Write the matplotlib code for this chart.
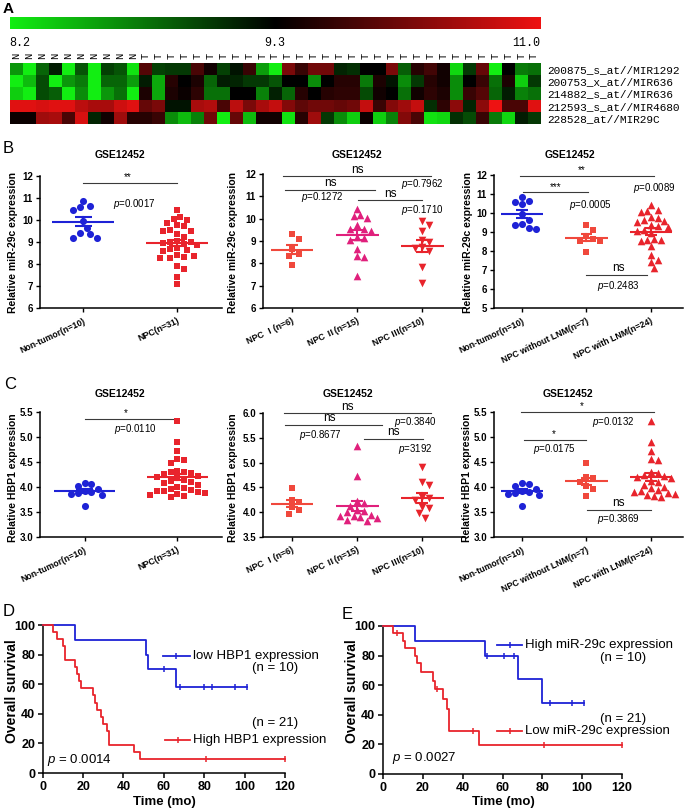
import numpy as np
import matplotlib
matplotlib.use('Agg')
import matplotlib.pyplot as plt
from matplotlib.colors import LinearSegmentedColormap, TwoSlopeNorm
from matplotlib.lines import Line2D

W, H = 685, 810
plt.rcParams['font.family'] = ['Liberation Sans', 'Noto Sans CJK SC', 'DejaVu Sans']
plt.rcParams['mathtext.fontset'] = 'custom'
plt.rcParams['mathtext.it'] = 'Liberation Sans:italic'
plt.rcParams['mathtext.rm'] = 'Liberation Sans'
plt.rcParams['axes.linewidth'] = 1.1

# ---------------- DATA ----------------
heat_rows = ['200875_s_at//MIR1292', '200753_x_at//MIR636', '214882_s_at//MIR636',
             '212593_s_at//MIR4680', '228528_at//MIR29C']
heat_cols = ['N'] * 10 + ['T'] * 31
heat_r1 = [8.61, 8.20, 8.83, 9.17, 8.20, 8.91, 8.20, 9.00, 8.91, 8.26, 9.90, 9.00, 9.04, 9.04, 9.83, 9.43,
           9.00, 9.21, 9.70, 8.57, 8.20, 10.17, 9.70, 10.10, 10.10, 9.13, 9.08, 9.30, 9.30, 10.17, 8.87,
           9.57, 9.77, 9.43, 8.31, 9.04, 10.03, 8.20, 9.30, 8.74, 8.78]
heat_r2 = [8.20, 8.44, 8.95, 8.20, 8.61, 8.74, 8.20, 8.83, 8.83, 8.57, 9.17, 8.52, 9.57, 9.30, 9.50, 8.83,
           9.17, 9.13, 9.04, 9.04, 8.91, 9.30, 9.30, 8.65, 9.30, 9.57, 9.57, 8.74, 9.50, 9.21, 8.65,
           9.04, 9.57, 9.43, 8.65, 9.30, 9.70, 8.78, 9.50, 8.35, 9.04]
heat_r3 = [8.35, 8.20, 8.95, 8.87, 8.20, 8.65, 8.20, 8.61, 8.78, 8.20, 9.50, 8.52, 9.50, 9.37, 9.63, 8.78,
           8.78, 9.30, 9.30, 8.70, 9.15, 8.83, 9.57, 9.30, 9.57, 9.63, 9.63, 8.95, 9.43, 9.30, 8.78,
           9.43, 9.63, 9.50, 8.65, 9.70, 9.90, 8.83, 9.17, 8.70, 8.78]
heat_r4 = [10.90, 10.90, 10.83, 10.90, 10.90, 10.63, 10.50, 10.50, 10.77, 10.90, 10.03, 10.17, 9.21, 9.21,
           10.50, 10.57, 9.83, 10.63, 10.17, 10.50, 10.70, 10.23, 9.97, 10.10, 10.10, 10.03, 10.10, 10.70,
           9.70, 10.23, 10.43, 10.70, 9.08, 9.63, 10.30, 9.13, 10.30, 11.00, 9.83, 9.83, 10.90]
heat_r5 = [9.37, 9.37, 10.43, 10.50, 9.83, 10.83, 9.13, 9.43, 10.43, 9.57, 9.57, 9.70, 8.65, 8.44, 8.70,
           10.10, 8.20, 10.03, 8.44, 9.43, 9.43, 8.26, 9.57, 10.43, 9.04, 8.65, 8.35, 9.37, 8.35, 8.70,
           10.23, 9.83, 8.26, 8.31, 9.08, 8.95, 9.70, 8.74, 8.31, 9.17, 9.04]
heat_min, heat_mid, heat_max = 8.2, 9.3, 11.0

# miR-29c expression (panel B)
mir_nontumor = [10.85, 10.65, 10.58, 10.45, 9.95, 9.65, 9.40, 9.38, 9.18, 9.20]
mir_npc = [10.45, 10.15, 10.05, 10.02, 9.88, 9.76, 9.74, 9.56, 9.52, 9.50, 9.38, 9.22, 9.05, 9.02, 8.98,
           8.95, 8.90, 8.88, 8.72, 8.68, 8.62, 8.58, 8.40, 8.38, 8.30, 8.28, 8.28, 7.92, 7.78, 7.42, 7.08]
mir_stage1 = [9.33, 9.08, 8.62, 8.40, 8.35, 7.93]
mir_stage2 = [10.43, 10.15, 10.10, 10.05, 9.72, 9.55, 9.52, 9.45, 9.20, 9.15, 9.05, 8.62, 8.32, 8.30, 7.42]
mir_stage3 = [9.88, 9.72, 9.45, 9.05, 8.95, 8.55, 8.72, 8.70, 7.82, 7.10]
mir_nolnm = [9.35, 9.12, 8.78, 8.65, 8.55, 8.52, 7.95]
mir_lnm = [10.42, 10.15, 10.10, 10.05, 9.78, 9.75, 9.62, 9.60, 9.55, 9.35, 9.30, 9.28, 9.10, 9.05, 8.95,
           8.62, 8.60, 8.58, 8.55, 8.28, 7.80, 7.55, 7.42, 7.08]

# HBP1 expression (panel C)
hbp_nontumor = [4.08, 4.06, 4.03, 3.97, 3.93, 3.90, 3.88, 3.86, 3.85, 3.63]
hbp_npc = [5.33, 4.90, 4.73, 4.57, 4.55, 4.48, 4.32, 4.30, 4.30, 4.28, 4.27, 4.22, 4.20, 4.18, 4.15, 4.12,
           4.10, 4.08, 4.05, 4.00, 3.98, 3.96, 3.95, 3.93, 3.92, 3.90, 3.88, 3.86, 3.85, 3.82, 3.80]
hbp_stage1 = [4.48, 4.25, 4.20, 4.10, 4.05, 3.97]
hbp_stage2 = [5.33, 4.72, 4.22, 4.18, 4.12, 4.05, 4.03, 4.00, 3.95, 3.93, 3.92, 3.90, 3.88, 3.85, 3.82]
hbp_stage3 = [4.92, 4.60, 4.55, 4.30, 4.28, 4.25, 4.10, 4.08, 3.98, 3.88]
hbp_nolnm = [4.48, 4.20, 4.18, 4.10, 4.02, 3.97, 3.83]
hbp_lnm = [5.33, 4.90, 4.73, 4.57, 4.55, 4.30, 4.28, 4.25, 4.22, 4.20, 4.18, 4.12, 4.10, 4.05, 4.00, 3.98,
           3.95, 3.92, 3.90, 3.88, 3.87, 3.85, 3.83, 3.80]

cats_tumor = ['Non-tumor(n=10)', 'NPC(n=31)']
cats_stage = ['NPC Ⅰ(n=6)', 'NPC Ⅱ(n=15)', 'NPC Ⅲ(n=10)']
cats_lnm = ['Non-tumor(n=10)', 'NPC without LNM(n=7)', 'NPC with LNM(n=24)']

# Survival (panels D, E): step times and survival levels (%), censor times
d_low_t = [0, 16, 51, 52, 66]
d_low_s = [100, 90, 80, 70, 58.3]
d_low_end = 101
d_low_cens = [60, 68, 80, 84, 95, 101]
d_high_t = [0, 5, 7, 10, 11, 16, 17, 18, 19, 25, 26, 27, 29, 30, 32, 33, 45, 48]
d_high_s = [100, 95.2, 90.5, 85.7, 76.2, 71.4, 66.7, 61.9, 57.1, 52.4, 47.6, 42.9, 38.1, 33.3, 28.6,
            19.0, 14.3, 9.5]
d_high_end = 120
d_high_cens = [81, 120]

e_high_t = [0, 16, 51, 68, 80]
e_high_s = [100, 90, 80, 64, 48]
e_high_end = 101
e_high_cens = [52, 61, 66, 84, 95, 101]
e_low_t = [0, 5, 10, 11, 16, 17, 19, 25, 26, 30, 32, 33, 48]
e_low_s = [100, 95, 90, 85, 80, 75, 69, 63, 57.5, 51, 44, 29, 19.5]
e_low_end = 120
e_low_cens = [7, 27, 45, 81, 120]

# ---------------- FIGURE ----------------
fig = plt.figure(figsize=(W / 100, H / 100), dpi=100)


def fx(px):
    return px / W


def fy(py):
    return 1 - py / H


def px_axes(x0, y0, x1, y1):
    return fig.add_axes([x0 / W, 1 - y1 / H, (x1 - x0) / W, (y1 - y0) / H])


BLUE = '#1e22d6'
RED = '#e8242c'
CORAL = '#f0483c'
MAGENTA = '#e0207c'

# ---- Panel A: heatmap ----
cmap = LinearSegmentedColormap.from_list('gkr', [(0, '#12ee12'), (0.5, '#000000'), (1, '#ee1212')])
hm = np.array([heat_r1, heat_r2, heat_r3, heat_r4, heat_r5])
axh = px_axes(9.6, 63, 540.6, 124)
axh.imshow(hm, cmap=cmap, norm=TwoSlopeNorm(vcenter=heat_mid, vmin=heat_min, vmax=heat_max),
           aspect='auto', interpolation='nearest')
for s in axh.spines.values():
    s.set_visible(False)
axh.xaxis.tick_top()
axh.set_xticks(range(len(heat_cols)), labels=heat_cols, rotation=90, fontsize=7.5,
               family='Liberation Mono')
axh.yaxis.tick_right()
axh.set_yticks(range(len(heat_rows)), labels=heat_rows, fontsize=8, family='Liberation Mono')
axh.tick_params(length=0)
axh.tick_params(axis='y', pad=5)
axh.tick_params(axis='x', pad=3)

cax = px_axes(9.6, 17, 540.6, 29)
cax.imshow(np.linspace(0, 1, 256)[None, :], cmap=cmap, aspect='auto', extent=[0, 1, 0, 1])
cax.axis('off')
fig.text(fx(9.6), fy(43), f'{heat_min:.1f}', ha='left', va='center', fontsize=8.5, family='Liberation Mono')
fig.text(fx(275), fy(43), f'{heat_mid:.1f}', ha='center', va='center', fontsize=8.5, family='Liberation Mono')
fig.text(fx(540.6), fy(43), f'{heat_max:.1f}', ha='right', va='center', fontsize=8.5, family='Liberation Mono')


# ---- scatter helpers ----
def swarm_offsets(vals, ypx, xpx, d):
    vals = np.asarray(vals, dtype=float)
    order = np.argsort(-vals, kind='stable')
    placed = []
    offs = np.zeros(len(vals))
    cands = [0.0]
    for k in range(1, 30):
        cands += [k * d * 0.5, -k * d * 0.5]
    for i in order:
        y = vals[i] * ypx
        chosen = cands[-1]
        for c in cands:
            if all((c - px) ** 2 + (y - py) ** 2 >= (d * 0.98) ** 2 for px, py in placed):
                chosen = c
                break
        placed.append((chosen, y))
        offs[i] = chosen / xpx
    return offs


def setup_scatter(box, xlim, ylim, yticks, fmt, cats):
    ax = px_axes(*box)
    ax.set_xlim(xlim)
    ax.set_ylim(ylim)
    ax.spines[['top', 'right']].set_visible(False)
    ax.set_yticks(yticks, labels=[fmt.format(v) for v in yticks], fontsize=7, fontweight='bold')
    ax.set_xticks(range(len(cats)), labels=cats, rotation=25, ha='right', va='top',
                  rotation_mode='anchor', fontsize=6.3, fontweight='bold')
    ax.tick_params(length=3, width=1, pad=2)
    ax.tick_params(axis='x', pad=3)
    xpx = (box[2] - box[0]) / (xlim[1] - xlim[0])
    ypx = (box[3] - box[1]) / (ylim[1] - ylim[0])
    ax._px = (xpx, ypx)
    return ax


def draw_group(ax, xc, vals, color, marker, size, d=6.8):
    xpx, ypx = ax._px
    offs = swarm_offsets(vals, ypx, xpx, d)
    ax.scatter(xc + offs, vals, s=size, marker=marker, color=color, linewidths=0, zorder=3, clip_on=False)
    m = np.mean(vals)
    se = np.std(vals, ddof=1) / np.sqrt(len(vals))
    ax.plot([xc - 0.33, xc + 0.33], [m, m], color=color, lw=1.5, zorder=4, solid_capstyle='butt')
    for yy in (m - se, m + se):
        ax.plot([xc - 0.09, xc + 0.09], [yy, yy], color=color, lw=1.5, zorder=4, solid_capstyle='butt')
    ax.plot([xc, xc], [m - se, m + se], color=color, lw=1.5, zorder=4)


def bar(ax, x0, x1, y):
    ax.plot([x0, x1], [y, y], color='#3a3a3a', lw=0.8, clip_on=False, zorder=2)


def txt(ax, x, y, s, fs=7, va='center'):
    ax.text(x, y, s, ha='center', va=va, fontsize=fs, clip_on=False)


def ylab(x, ybottom, s):
    fig.text(fx(x), fy(ybottom), s, rotation=90, ha='center', va='bottom', fontsize=7.5, fontweight='bold')


def title(x, y, s='GSE12452'):
    fig.text(fx(x), fy(y), s, ha='center', va='center', fontsize=7.5, fontweight='bold')


P = r'$\it{p}$'

# ---- Panel B ----
ax = setup_scatter((40, 176, 222, 308), (-0.46, 1.48), (6, 12), range(6, 13), '{:d}', cats_tumor)
draw_group(ax, 0, mir_nontumor, BLUE, 'o', 26)
draw_group(ax, 1, mir_npc, RED, 's', 22)
bar(ax, 0, 1, 11.7)
txt(ax, 0.47, 11.72, '**', 7, 'bottom')
txt(ax, 0.55, 10.74, P + '=0.0017')
ylab(13, 313, 'Relative miR-29c expression')
title(120, 155)

ax = setup_scatter((263, 174, 465, 308), (-0.446, 2.66), (6, 12), range(6, 13), '{:d}', cats_stage)
draw_group(ax, 0, mir_stage1, CORAL, 's', 22)
draw_group(ax, 1, mir_stage2, MAGENTA, '^', 30)
draw_group(ax, 2, mir_stage3, RED, 'v', 30)
bar(ax, -0.14, 2.13, 11.9)
txt(ax, 1.0, 11.93, 'ns', 8.5, 'bottom')
bar(ax, -0.11, 1.27, 11.3)
txt(ax, 0.59, 11.33, 'ns', 8.5, 'bottom')
txt(ax, 0.46, 10.97, P + '=0.1272')
bar(ax, 1.02, 2.0, 10.82)
txt(ax, 1.51, 10.85, 'ns', 8.5, 'bottom')
txt(ax, 2.0, 11.55, P + '=0.7962')
txt(ax, 2.0, 10.40, P + '=0.1710')
ylab(233, 313, 'Relative miR-29c expression')
title(357, 155)

ax = setup_scatter((494, 175, 683, 308), (-0.434, 2.5), (5, 12), range(5, 13), '{:d}', cats_lnm)
draw_group(ax, 0, mir_nontumor, BLUE, 'o', 26)
draw_group(ax, 1, mir_nolnm, CORAL, 's', 22)
draw_group(ax, 2, mir_lnm, RED, '^', 30)
bar(ax, -0.03, 2.05, 11.95)
txt(ax, 0.93, 11.97, '**', 7, 'bottom')
bar(ax, 0.01, 1.02, 11.09)
txt(ax, 0.52, 11.11, '***', 7, 'bottom')
txt(ax, 1.06, 10.42, P + '=0.0005')
txt(ax, 2.06, 11.3, P + '=0.0089')
bar(ax, 1.0, 1.94, 6.75)
txt(ax, 1.49, 6.78, 'ns', 8.5, 'bottom')
txt(ax, 1.49, 6.17, P + '=0.2483')
ylab(468, 313, 'Relative miR-29c expression')
title(570, 155)

# ---- Panel C ----
c_ticks1 = [3.0, 3.5, 4.0, 4.5, 5.0, 5.5]
c_ticks2 = [3.5, 4.0, 4.5, 5.0, 5.5, 6.0]
ax = setup_scatter((40, 412, 222, 537), (-0.48, 1.48), (3.0, 5.5), c_ticks1, '{:.1f}', cats_tumor)
draw_group(ax, 0, hbp_nontumor, BLUE, 'o', 26)
draw_group(ax, 1, hbp_npc, RED, 's', 22)
bar(ax, 0, 1, 5.36)
txt(ax, 0.44, 5.37, '*', 7, 'bottom')
txt(ax, 0.55, 5.15, P + '=0.0110')
ylab(13, 542, 'Relative HBP1 expression')
title(120, 394)

ax = setup_scatter((263, 413, 465, 537), (-0.446, 2.66), (3.5, 6.0), c_ticks2, '{:.1f}', cats_stage)
draw_group(ax, 0, hbp_stage1, CORAL, 's', 22)
draw_group(ax, 1, hbp_stage2, MAGENTA, '^', 30)
draw_group(ax, 2, hbp_stage3, RED, 'v', 30)
bar(ax, -0.12, 2.13, 5.99)
txt(ax, 0.85, 6.01, 'ns', 8.5, 'bottom')
bar(ax, -0.11, 1.38, 5.75)
txt(ax, 0.57, 5.77, 'ns', 8.5, 'bottom')
txt(ax, 0.43, 5.56, P + '=0.8677')
bar(ax, 1.10, 2.01, 5.47)
txt(ax, 1.56, 5.49, 'ns', 8.5, 'bottom')
txt(ax, 1.9, 5.82, P + '=0.3840')
txt(ax, 1.9, 5.28, P + '=3192')
ylab(233, 542, 'Relative HBP1 expression')
title(348, 394)

ax = setup_scatter((494, 412, 683, 537), (-0.434, 2.5), (3.0, 5.5), c_ticks1, '{:.1f}', cats_lnm)
draw_group(ax, 0, hbp_nontumor, BLUE, 'o', 26)
draw_group(ax, 1, hbp_nolnm, CORAL, 's', 22)
draw_group(ax, 2, hbp_lnm, RED, '^', 30)
bar(ax, -0.01, 2.05, 5.5)
txt(ax, 0.93, 5.51, '*', 7, 'bottom')
txt(ax, 1.42, 5.30, P + '=0.0132')
bar(ax, 0.03, 1.0, 4.94)
txt(ax, 0.5, 4.95, '*', 7, 'bottom')
txt(ax, 0.51, 4.77, P + '=0.0175')
bar(ax, 1.01, 2.0, 3.55)
txt(ax, 1.49, 3.57, 'ns', 8.5, 'bottom')
txt(ax, 1.49, 3.36, P + '=0.3869')
ylab(467, 542, 'Relative HBP1 expression')
title(568, 394)


# ---- Survival panels ----
def surv_axes(box):
    ax = px_axes(*box)
    ax.set_xlim(0, 120)
    ax.set_ylim(0, 100)
    ax.spines[['top', 'right']].set_visible(False)
    ax.set_xticks(range(0, 121, 20), labels=[str(v) for v in range(0, 121, 20)], fontsize=9, fontweight='bold')
    ax.set_yticks(range(0, 101, 20), labels=[str(v) for v in range(0, 101, 20)], fontsize=9, fontweight='bold')
    ax.tick_params(length=3.5, width=1.1, pad=2)
    return ax


def km(ax, t, s, end, cens, color):
    tt = list(t) + [end]
    ss = list(s) + [s[-1]]
    ax.step(tt, ss, where='post', color=color, lw=1.3, clip_on=False, zorder=3)
    t_arr = np.array(t)
    cy = [s[int(np.searchsorted(t_arr, c, side='right')) - 1] for c in cens]
    ax.plot(cens, cy, linestyle='none', marker='|', ms=5, mew=1.1, color=color, clip_on=False, zorder=4)


def handle(x0, x1, y, color):
    fig.add_artist(Line2D([fx(x0), fx(x1)], [fy(y), fy(y)], color=color, lw=1.3))
    fig.add_artist(Line2D([fx((x0 + x1) / 2)], [fy(y)], marker='|', ms=5, mew=1.1, color=color))


axd = surv_axes((42.7, 625, 285, 773))
km(axd, d_low_t, d_low_s, d_low_end, d_low_cens, BLUE)
km(axd, d_high_t, d_high_s, d_high_end, d_high_cens, RED)
handle(163, 190, 656, BLUE)
fig.text(fx(193), fy(656), 'low HBP1 expression', ha='left', va='center', fontsize=9.5)
fig.text(fx(252), fy(668), '(n = 10)', ha='left', va='center', fontsize=9.5)
fig.text(fx(252), fy(723), '(n = 21)', ha='left', va='center', fontsize=9.5)
handle(165, 190, 740, RED)
fig.text(fx(193), fy(740), 'High HBP1 expression', ha='left', va='center', fontsize=9.5)
fig.text(fx(47), fy(760), P + ' = 0.0014', ha='left', va='center', fontsize=9.5)
fig.text(fx(12), fy(743), 'Overall survival', rotation=90, ha='center', va='bottom', fontsize=10, fontweight='bold')
fig.text(fx(164), fy(802), 'Time (mo)', ha='center', va='center', fontsize=9.5, fontweight='bold')

axe = surv_axes((383, 626, 622, 774))
km(axe, e_high_t, e_high_s, e_high_end, e_high_cens, BLUE)
km(axe, e_low_t, e_low_s, e_low_end, e_low_cens, RED)
handle(497, 522, 645, BLUE)
fig.text(fx(525), fy(645), 'High miR-29c expression', ha='left', va='center', fontsize=9.5)
fig.text(fx(600), fy(658), '(n = 10)', ha='left', va='center', fontsize=9.5)
fig.text(fx(600), fy(719), '(n = 21)', ha='left', va='center', fontsize=9.5)
handle(497, 522, 731, RED)
fig.text(fx(525), fy(731), 'Low miR-29c expression', ha='left', va='center', fontsize=9.5)
fig.text(fx(392), fy(758), P + ' = 0.0027', ha='left', va='center', fontsize=9.5)
fig.text(fx(352), fy(743), 'Overall survival', rotation=90, ha='center', va='bottom', fontsize=10, fontweight='bold')
fig.text(fx(503), fy(802), 'Time (mo)', ha='center', va='center', fontsize=9.5, fontweight='bold')

# ---- Panel letters ----
fig.text(fx(3), fy(2), 'A', ha='left', va='top', fontsize=11, fontweight='bold')
fig.text(fx(3), fy(141), 'B', ha='left', va='top', fontsize=12)
fig.text(fx(4), fy(377), 'C', ha='left', va='top', fontsize=12)
fig.text(fx(3), fy(604), 'D', ha='left', va='top', fontsize=12)
fig.text(fx(342), fy(607), 'E', ha='left', va='top', fontsize=12)

fig.savefig('out.png', dpi=100)
